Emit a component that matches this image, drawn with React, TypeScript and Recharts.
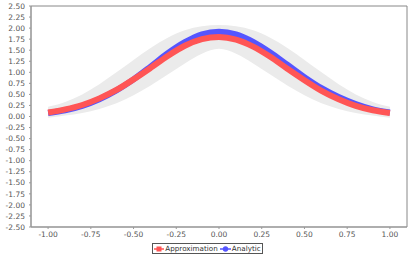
import React from "react";
import { ComposedChart, Line, Area, XAxis, YAxis, Legend, ReferenceArea } from "recharts";

const xValues = [-1, -0.9, -0.8, -0.7, -0.6, -0.5, -0.4, -0.3, -0.2, -0.1, 0, 0.1, 0.2, 0.3, 0.4, 0.5, 0.6, 0.7, 0.8, 0.9, 1];
const approximation = [0.09, 0.16, 0.26, 0.41, 0.6, 0.84, 1.1, 1.37, 1.6, 1.75, 1.8, 1.74, 1.58, 1.35, 1.08, 0.82, 0.58, 0.39, 0.24, 0.14, 0.08];
const analytic = [0.08, 0.14, 0.24, 0.39, 0.59, 0.84, 1.13, 1.43, 1.68, 1.86, 1.92, 1.86, 1.69, 1.45, 1.17, 0.89, 0.64, 0.44, 0.28, 0.16, 0.09];
const bandUpper = [0.22, 0.33, 0.5, 0.73, 1.0, 1.28, 1.55, 1.78, 1.95, 2.04, 2.07, 2.04, 1.95, 1.78, 1.55, 1.28, 1.0, 0.73, 0.5, 0.33, 0.22];
const bandLower = [-0.03, 0.02, 0.08, 0.17, 0.3, 0.48, 0.7, 0.95, 1.2, 1.42, 1.53, 1.42, 1.2, 0.95, 0.7, 0.48, 0.3, 0.17, 0.08, 0.02, -0.03];

const xTicks = [-1, -0.75, -0.5, -0.25, 0, 0.25, 0.5, 0.75, 1];
const yTicks = [-2.5, -2.25, -2, -1.75, -1.5, -1.25, -1, -0.75, -0.5, -0.25, 0, 0.25, 0.5, 0.75, 1, 1.25, 1.5, 1.75, 2, 2.25, 2.5];

const data = xValues.map((x, i) => ({
  x,
  approximation: approximation[i],
  analytic: analytic[i],
  band: [bandLower[i], bandUpper[i]],
}));

const RED = "#FF5555";
const BLUE = "#5555FF";
const FONT = "DejaVu Sans, sans-serif";

const fmt = (v: number) => v.toFixed(2);

const LegendContent = () => (
  <div style={{ display: "flex", justifyContent: "center", paddingTop: 2 }}>
    <div
      style={{
        display: "inline-flex",
        alignItems: "center",
        border: "1px solid #555",
        height: 9,
        padding: "0 1px",
        fontFamily: FONT,
        fontSize: 7.2,
        color: "#333",
        lineHeight: "9px",
        whiteSpace: "nowrap",
      }}
    >
      <svg width={10} height={6} style={{ marginRight: 1 }}>
        <line x1={0} y1={3} x2={10} y2={3} stroke={RED} strokeWidth={1.5} />
        <rect x={2.5} y={0.5} width={5} height={5} fill={RED} />
      </svg>
      <span style={{ marginRight: 2 }}>Approximation</span>
      <svg width={11} height={6} style={{ marginRight: 1 }}>
        <line x1={0} y1={3} x2={11} y2={3} stroke={BLUE} strokeWidth={1.5} />
        <circle cx={5.5} cy={3} r={2.7} fill={BLUE} />
      </svg>
      <span>Analytic</span>
    </div>
  </div>
);

export default function App() {
  return (
    <div style={{ position: "absolute", left: 0, top: 0, background: "#fff" }}>
      <ComposedChart
        width={415}
        height={257}
        data={data}
        margin={{ top: 6, right: 8, left: 0, bottom: 0 }}
      >
        <XAxis
          dataKey="x"
          type="number"
          domain={[-1.1, 1.1]}
          ticks={xTicks}
          tickFormatter={fmt}
          height={14}
          tickSize={2}
          tickMargin={3}
          stroke="#999"
          tick={{ fill: "#555", fontSize: 7.5, fontFamily: FONT }}
          interval={0}
        />
        <YAxis
          type="number"
          domain={[-2.5, 2.5]}
          ticks={yTicks}
          tickFormatter={fmt}
          width={31}
          tickSize={2}
          tickMargin={4}
          stroke="#999"
          tick={{ fill: "#555", fontSize: 7.5, fontFamily: FONT }}
          interval={0}
        />
        <ReferenceArea
          x1={-1.1}
          x2={1.1}
          y1={-2.5}
          y2={2.5}
          fill="none"
          stroke="#888"
          strokeWidth={1}
          ifOverflow="visible"
        />
        <Area
          dataKey="band"
          type="monotone"
          fill="#EBEBEB"
          fillOpacity={1}
          stroke="none"
          isAnimationActive={false}
          legendType="none"
        />
        <Line
          dataKey="analytic"
          type="monotone"
          stroke={BLUE}
          strokeWidth={6}
          dot={false}
          isAnimationActive={false}
        />
        <Line
          dataKey="approximation"
          type="monotone"
          stroke={RED}
          strokeWidth={6}
          dot={false}
          isAnimationActive={false}
        />
        <Legend
          verticalAlign="bottom"
          height={16}
          wrapperStyle={{ left: 0, width: 415 }}
          content={<LegendContent />}
        />
      </ComposedChart>
    </div>
  );
}
